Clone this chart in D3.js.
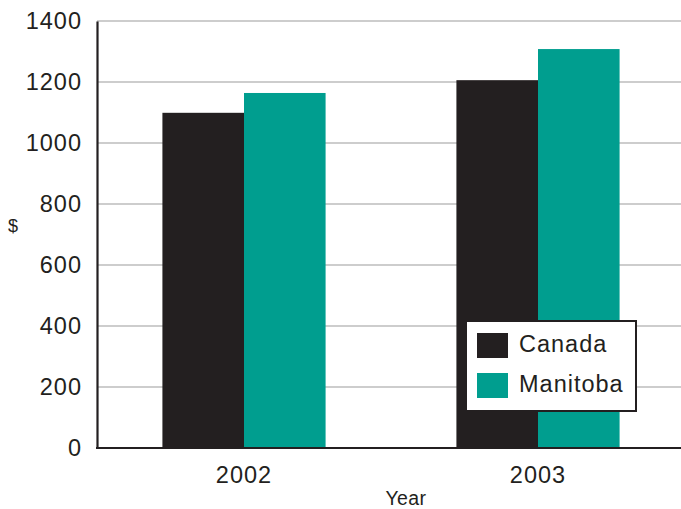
<!DOCTYPE html>
<html>
<head>
<meta charset="utf-8">
<script src="https://cdn.jsdelivr.net/npm/d3@7"></script>
<style>
  html, body { margin: 0; padding: 0; background: #fff; }
  svg { display: block; font-family: "Liberation Sans", Arial, Helvetica, sans-serif; }
</style>
</head>
<body>
<svg id="chart" width="681" height="509"></svg>
<script>
// Average values by year, Canada vs Manitoba ($)
const years = ["2002", "2003"];
const seriesNames = ["Canada", "Manitoba"];
const canada = [1099, 1206];
const manitoba = [1164, 1308];
const yTicks = [0, 200, 400, 600, 800, 1000, 1200, 1400];
const colors = ["#231f20", "#009e8f"];

const svg = d3.select("#chart");
const W = 681, H = 509;
const plotLeft = 97, plotRight = 685, plotTop = 21, plotBottom = 448;
const ink = "#231f20";
const labelFont = "Liberation Sans, Arial, sans-serif";

const rows = years.map((yr, i) => ({ year: yr, values: [canada[i], manitoba[i]] }));

const x0 = d3.scaleBand().domain(years).range([plotLeft, plotRight])
  .paddingInner(0.445).paddingOuter(0.2225);
const x1 = d3.scaleBand().domain(seriesNames).range([0, x0.bandwidth()]);
const y = d3.scaleLinear().domain([0, 1400]).range([plotBottom, plotTop]);

// Horizontal gridlines
svg.append("g")
  .selectAll("line")
  .data(yTicks.filter(t => t > 0))
  .join("line")
  .attr("x1", plotLeft).attr("x2", W)
  .attr("y1", d => y(d)).attr("y2", d => y(d))
  .attr("stroke", "#bcbcbc").attr("stroke-width", 1.5);

// Bars
const groups = svg.append("g").selectAll("g")
  .data(rows).join("g")
  .attr("transform", d => `translate(${x0(d.year)},0)`);
groups.selectAll("rect")
  .data(d => d.values.map((v, i) => ({ key: seriesNames[i], value: v, i })))
  .join("rect")
  .attr("x", d => x1(d.key))
  .attr("width", x1.bandwidth())
  .attr("y", d => y(d.value))
  .attr("height", d => y(0) - y(d.value))
  .attr("fill", d => colors[d.i]);

// Y axis
const yAxis = svg.append("g")
  .attr("transform", `translate(${plotLeft},0)`)
  .call(d3.axisLeft(y).tickValues(yTicks).tickFormat(d3.format("d"))
    .tickSize(0).tickPadding(15));
yAxis.select(".domain").attr("stroke", ink).attr("stroke-width", 2.2);
yAxis.selectAll("text")
  .attr("font-size", 23.5).attr("letter-spacing", "1px")
  .attr("fill", ink).attr("font-family", labelFont);

// X axis
const xAxis = svg.append("g")
  .attr("transform", `translate(0,${plotBottom})`)
  .call(d3.axisBottom(x0).tickSize(0).tickPadding(18));
xAxis.select(".domain").remove();
xAxis.selectAll("text")
  .attr("font-size", 23.5).attr("letter-spacing", "1px")
  .attr("fill", ink).attr("font-family", labelFont);
svg.append("line")
  .attr("x1", plotLeft - 1).attr("x2", W)
  .attr("y1", plotBottom).attr("y2", plotBottom)
  .attr("stroke", ink).attr("stroke-width", 2.2);

// Axis titles
svg.append("text")
  .attr("x", 13).attr("y", 232)
  .attr("text-anchor", "middle")
  .attr("font-size", 18).attr("fill", ink)
  .text("$");
svg.append("text")
  .attr("x", 406).attr("y", 505)
  .attr("text-anchor", "middle")
  .attr("font-size", 19.5).attr("letter-spacing", "0.4px").attr("fill", ink)
  .text("Year");

// Legend
const legend = svg.append("g").attr("transform", "translate(466,321)");
legend.append("rect")
  .attr("width", 170).attr("height", 90)
  .attr("fill", "#fff").attr("stroke", ink).attr("stroke-width", 2);
seriesNames.forEach((name, i) => {
  const g = legend.append("g").attr("transform", `translate(11,${12 + i * 40})`);
  g.append("rect").attr("width", 31).attr("height", 25).attr("fill", colors[i]);
  g.append("text")
    .attr("x", 42).attr("y", 19)
    .attr("font-size", 23.5).attr("letter-spacing", "1px").attr("fill", ink)
    .text(name);
});
</script>
</body>
</html>
